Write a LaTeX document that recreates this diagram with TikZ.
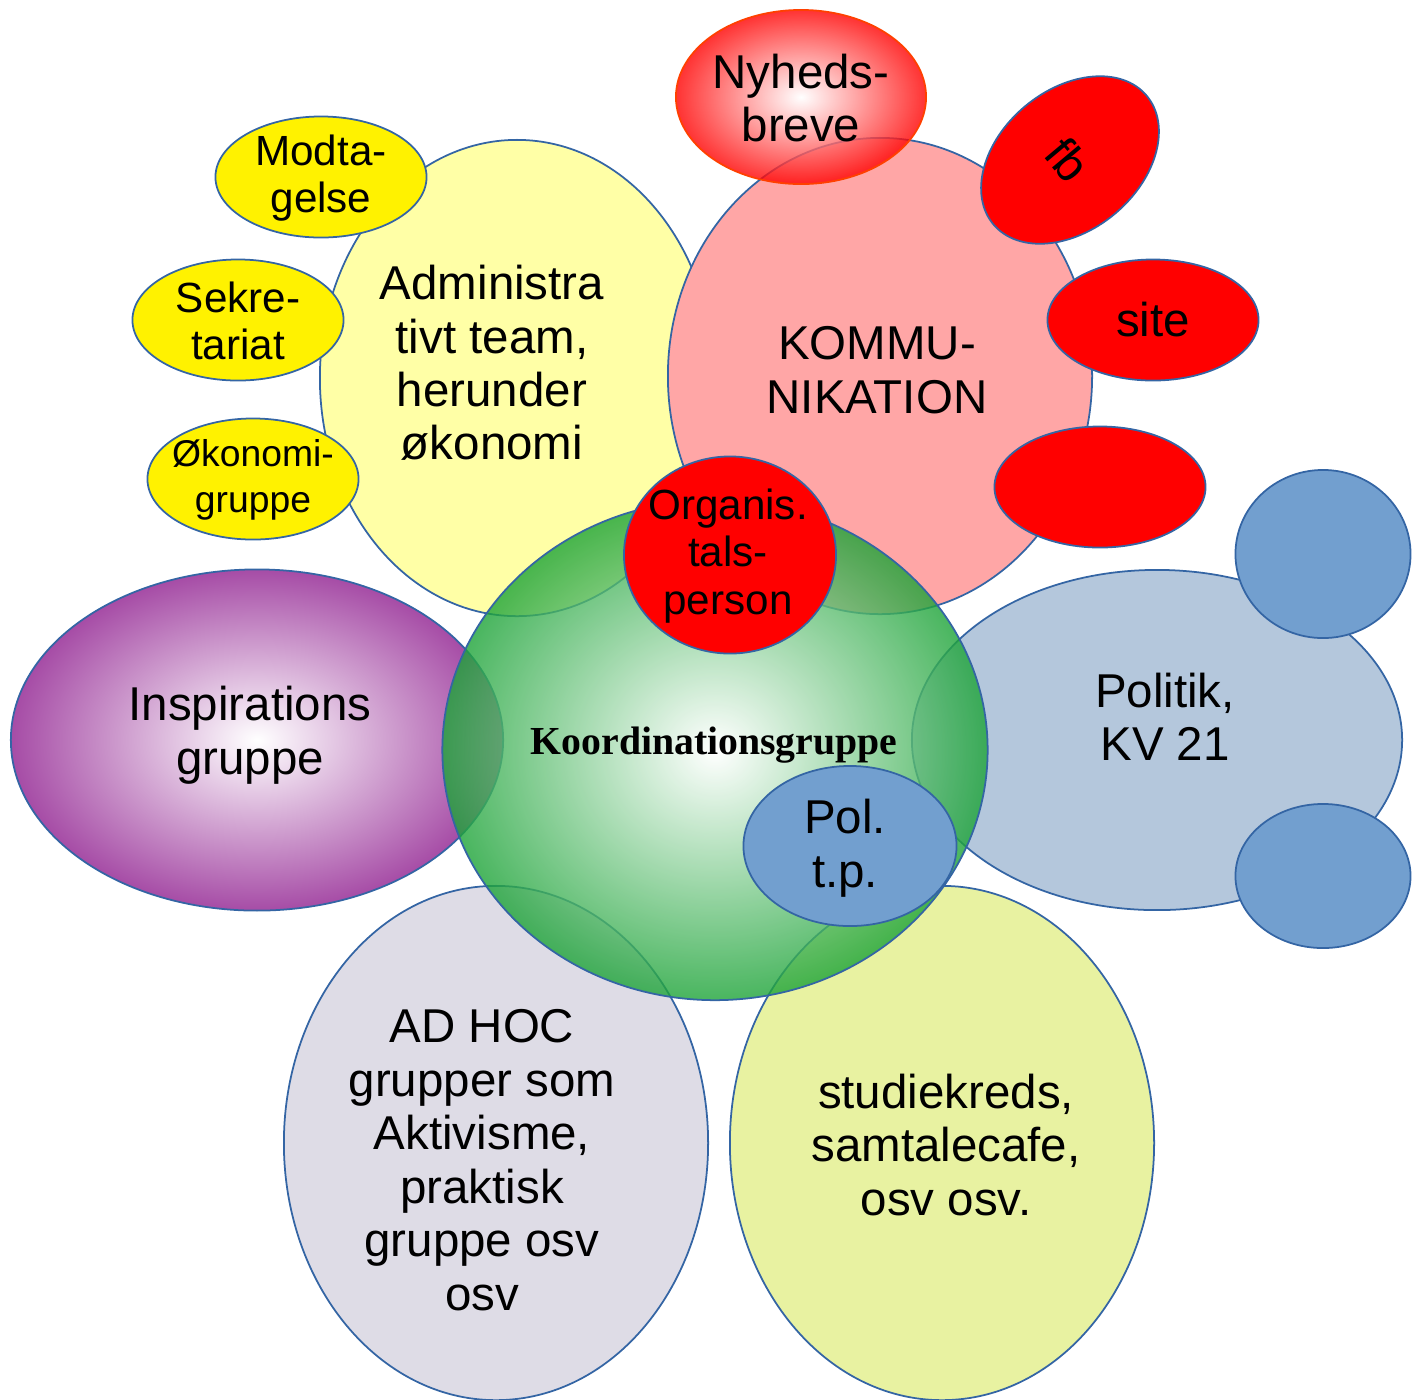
\documentclass[tikz,border=0pt]{standalone}
\usepackage{fontspec}
\setmainfont{Liberation Sans}
\newfontfamily\koordfont{Liberation Serif}
\usetikzlibrary{shapes.geometric}

\definecolor{bline}{HTML}{3465A4}
\definecolor{adminyel}{HTML}{FFFFA6}
\definecolor{kommpink}{HTML}{FFA6A6}
\definecolor{nyhline}{HTML}{FF4000}
\definecolor{polblue}{HTML}{729FCF}
\definecolor{politikblue}{HTML}{B4C7DC}
\definecolor{inspurple}{HTML}{A64CA6}
\definecolor{adhocgrey}{HTML}{DEDCE6}
\definecolor{studgreen}{HTML}{E8F2A1}
\definecolor{koordgreen}{RGB}{28,163,55}

\tikzset{
  bubble/.style={ellipse, draw=bline, line width=0.5pt, inner sep=0pt},
  smallbub/.style={bubble, minimum width=2.11cm, minimum height=1.21cm},
  txt/.style={align=center, inner sep=0pt, font=\fontsize{13.5}{15.2}\selectfont},
  smalltxt/.style={txt, font=\fontsize{12}{13.4}\selectfont},
}

\begin{document}
\begin{tikzpicture}[x=0.01cm, y=-0.01cm]
  \useasboundingbox (0,0) rectangle (1421,1399);
  \clip (0,0) rectangle (1421,1399);

  % top groups
  \node[bubble, fill=adminyel, minimum width=3.94cm, minimum height=4.76cm] (admin) at (517,378) {};
  \node[bubble, fill=kommpink, minimum width=4.24cm, minimum height=4.76cm] (komm) at (880,376) {};
  \node[bubble, draw=nyhline, inner color=white, outer color=red, fill opacity=0.8,
        minimum width=2.5cm, minimum height=1.74cm] (nyheds) at (801,97) {};
  \node[bubble, fill=red, rotate=-50, minimum width=1.4cm, minimum height=2.0cm] (fb) at (1070,160) {};
  \node[smallbub, fill=red] (site) at (1153,320) {};
  \node[smallbub, fill=red] (kommblank) at (1100,487) {};
  \node[smallbub, fill=yellow] (modta) at (321,177) {};
  \node[smallbub, fill=yellow] (sekre) at (238,320) {};
  \node[smallbub, fill=yellow] (oekon) at (253,479) {};

  % right, left and bottom groups
  \node[bubble, fill=politikblue, minimum width=4.9cm, minimum height=3.4cm] (politik) at (1157,740) {};
  \node[bubble, fill=polblue, minimum width=1.75cm, minimum height=1.68cm] (polup) at (1323,554) {};
  \node[bubble, fill=polblue, minimum width=1.75cm, minimum height=1.44cm] (poldown) at (1323,876) {};
  \node[bubble, inner color=white, outer color=inspurple, minimum width=4.92cm, minimum height=3.41cm] (insp) at (257,740) {};
  \node[bubble, fill=adhocgrey, minimum width=4.24cm, minimum height=5.14cm] (adhoc) at (496,1143) {};
  \node[bubble, fill=studgreen, minimum width=4.24cm, minimum height=5.14cm] (stud) at (942,1143) {};

  % centre
  \node[bubble, inner color=white, outer color=koordgreen, fill opacity=0.8,
        minimum width=5.45cm, minimum height=5.0cm] (koord) at (715,750) {};
  \node[bubble, fill=red, minimum width=2.12cm, minimum height=1.97cm] (talsp) at (730,555) {};
  \node[bubble, fill=polblue, minimum width=2.13cm, minimum height=1.6cm] (poltp) at (850,846) {};

  % labels
  \node[txt] (admintxt) at (492,363) {Administra\\tivt team,\\herunder\\økonomi};
  \node[txt] (kommtxt) at (877,370) {KOMMU-\\NIKATION};
  \node[txt] (nyhtxt) at (801,98) {Nyheds-\\breve};
  \node[txt, rotate=-50] (fbtxt) at (1068,160) {fb};
  \node[txt] (sitetxt) at (1153,320) {site};
  \node[smalltxt] (modtatxt) at (321,178) {Modta-\\gelse};
  \node[smalltxt] (sekretxt) at (238,321) {Sekre-\\tariat};
  \node[txt, font=\fontsize{10.6}{13.2}\selectfont] (oekontxt) at (253,480) {Økonomi-\\gruppe};
  \node[smalltxt] (talsptxt) at (728,556) {Organis.\\tals-\\person};
  \node[txt] (insptxt) at (250,735) {Inspirations\\gruppe};
  \node[inner sep=0pt, font=\koordfont\bfseries\fontsize{11.3}{13}\selectfont] (koordtxt) at (714,745) {Koordinationsgruppe};
  \node[txt] (poltptxt) at (845,848) {Pol.\\t.p.};
  \node[txt] (politiktxt) at (1165,717) {Politik,\\KV 21};
  \node[txt] (adhoctxt) at (482,1160) {AD HOC\\grupper som\\Aktivisme,\\praktisk\\gruppe osv\\osv};
  \node[txt] (studtxt) at (946,1145) {studiekreds,\\samtalecafe,\\osv osv.};
\end{tikzpicture}
\end{document}
